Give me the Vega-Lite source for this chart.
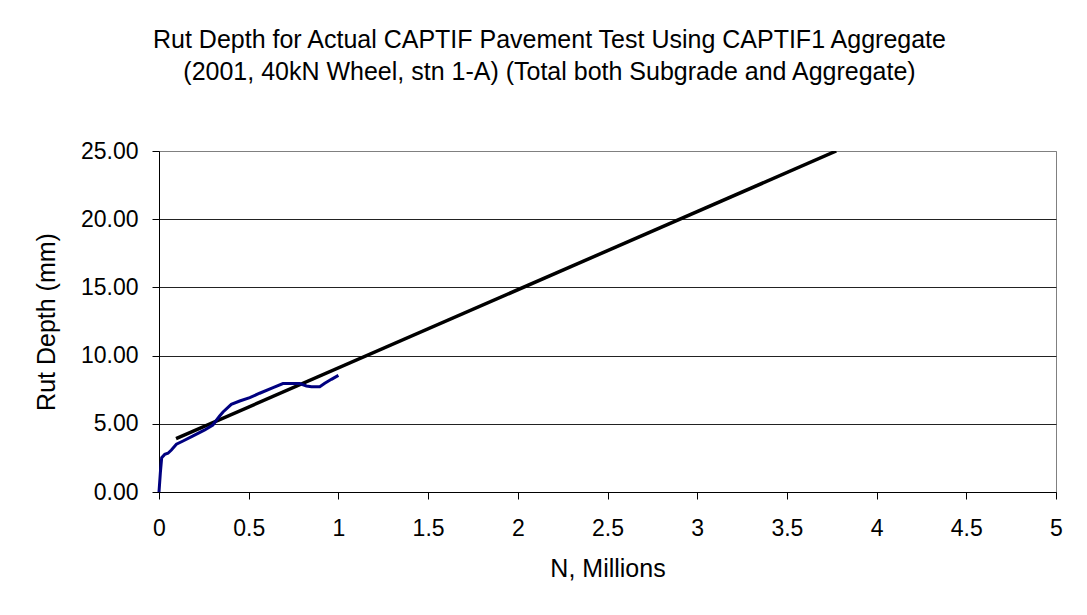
{
  "$schema": "https://vega.github.io/schema/vega-lite/v6.json",
  "autosize": {"type": "none"},
  "width": 897,
  "height": 341,
  "padding": {"left": 159, "top": 151, "right": 31, "bottom": 123},
  "background": "white",
  "config": {
    "font": "Liberation Sans",
    "view": {"stroke": "#808080", "strokeWidth": 1},
    "axis": {"labelFont": "Liberation Sans", "titleFont": "Liberation Sans", "labelColor": "#000", "titleColor": "#000", "titleFontWeight": "normal"}
  },
  "title": {
    "text": ["Rut Depth for Actual CAPTIF Pavement Test Using CAPTIF1 Aggregate", "(2001, 40kN Wheel, stn 1-A) (Total both Subgrade and Aggregate)"],
    "font": "Liberation Sans",
    "fontSize": 25,
    "fontWeight": "normal",
    "color": "#000",
    "lineHeight": 32,
    "anchor": "middle",
    "frame": "group",
    "baseline": "alphabetic",
    "dx": -58,
    "offset": 35
  },
  "datasets": {
    "measured": [
      {"n": 0, "rut": 0},
      {"n": 0.0076, "rut": 1.42},
      {"n": 0.015, "rut": 2.52},
      {"n": 0.032, "rut": 2.76},
      {"n": 0.05, "rut": 2.84},
      {"n": 0.069, "rut": 3.08},
      {"n": 0.097, "rut": 3.5},
      {"n": 0.134, "rut": 3.74},
      {"n": 0.19, "rut": 4.11},
      {"n": 0.255, "rut": 4.55},
      {"n": 0.3, "rut": 4.91},
      {"n": 0.338, "rut": 5.57},
      {"n": 0.357, "rut": 5.87},
      {"n": 0.403, "rut": 6.43},
      {"n": 0.45, "rut": 6.67},
      {"n": 0.506, "rut": 6.92},
      {"n": 0.561, "rut": 7.24},
      {"n": 0.636, "rut": 7.65},
      {"n": 0.691, "rut": 7.95},
      {"n": 0.784, "rut": 7.95},
      {"n": 0.822, "rut": 7.77},
      {"n": 0.85, "rut": 7.72},
      {"n": 0.896, "rut": 7.72},
      {"n": 0.924, "rut": 7.97},
      {"n": 0.961, "rut": 8.26},
      {"n": 1.0, "rut": 8.55}
    ],
    "trend": [
      {"n": 0.095, "rut": 3.91},
      {"n": 3.775, "rut": 25}
    ]
  },
  "layer": [
    {
      "data": {"name": "trend"},
      "mark": {"type": "line", "color": "#000000", "strokeWidth": 3.5, "clip": true},
      "encoding": {
        "x": {
          "field": "n", "type": "quantitative",
          "scale": {"domain": [0, 5], "nice": false},
          "axis": {
            "title": "N, Millions",
            "values": [0, 0.5, 1, 1.5, 2, 2.5, 3, 3.5, 4, 4.5, 5],
            "format": "~g",
            "grid": false,
            "domainColor": "#000", "tickColor": "#000", "tickSize": 7,
            "labelFontSize": 23, "labelPadding": 18, "labelFlush": false,
            "titleFontSize": 25, "titlePadding": 16
          }
        },
        "y": {
          "field": "rut", "type": "quantitative",
          "scale": {"domain": [0, 25], "nice": false},
          "axis": {
            "title": "Rut Depth (mm)",
            "values": [0, 5, 10, 15, 20, 25],
            "format": ".2f",
            "grid": true,
            "gridColor": {"condition": {"test": "datum.value == 25", "value": "#808080"}, "value": "#222222"},
            "gridWidth": 1,
            "domainColor": "#000", "tickColor": "#000", "tickSize": 7,
            "labelFontSize": 23, "labelPadding": 14,
            "titleFontSize": 25, "titlePadding": 21
          }
        }
      }
    },
    {
      "data": {"name": "measured"},
      "mark": {"type": "line", "color": "#000080", "strokeWidth": 3},
      "encoding": {
        "x": {"field": "n", "type": "quantitative"},
        "y": {"field": "rut", "type": "quantitative"}
      }
    }
  ]
}
